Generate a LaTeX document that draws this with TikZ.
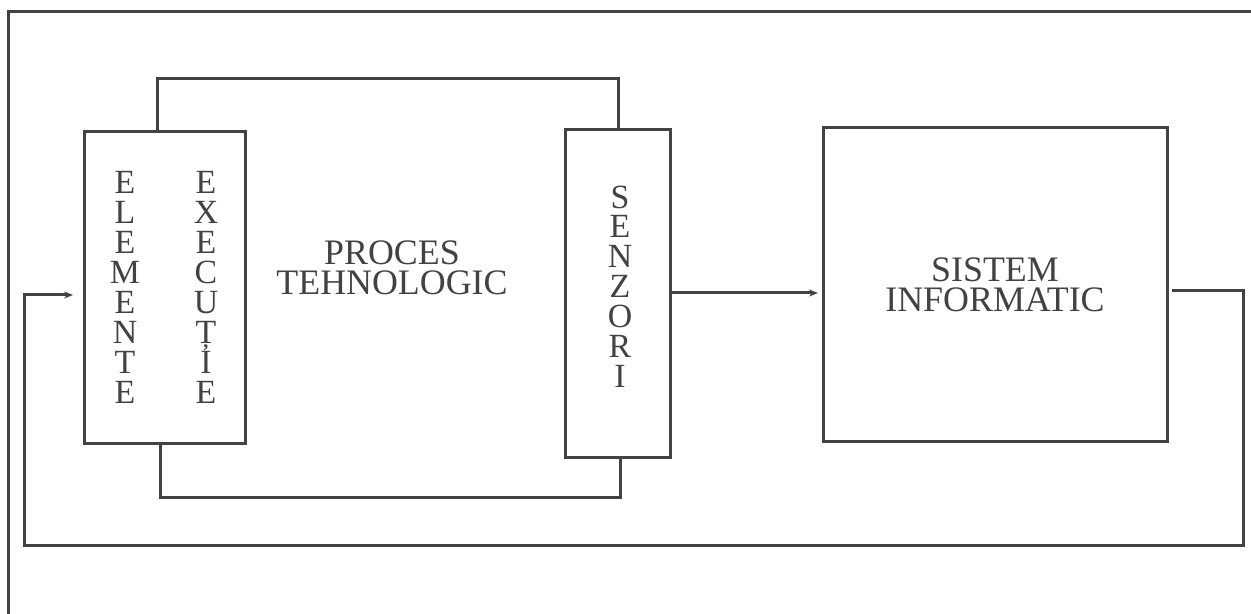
\documentclass[tikz,border=0pt]{standalone}
\usepackage{fontspec}
\setmainfont{Liberation Serif}
\usetikzlibrary{arrows.meta,calc}
\definecolor{ink}{RGB}{66,66,66}
\begin{document}
\begin{tikzpicture}[x=1bp,y=-1bp,
  line/.style={draw=ink,line width=3bp},
  blk/.style={line,rectangle,inner sep=0pt,outer sep=0pt},
  lbl/.style={text=ink,align=center,inner sep=0pt,outer sep=0pt,
    font={\fontsize{36}{30}\selectfont\lineskiplimit=-50pt}},
  vlbl/.style={lbl,font={\fontsize{34}{30}\selectfont\lineskiplimit=-50pt}},
  arr/.style={line,-{Stealth[length=9bp,width=7bp]}}]
\useasboundingbox (0,0) rectangle (1251,614);
\fill[white] (0,0) rectangle (1251,614);
% outer frame
\draw[line] (1251,12) -- (8,12) -- (8,614);
% blocks
\node[blk,minimum width=160bp,minimum height=311bp] (EL) at (165,287.5) {};
\node[vlbl] (ELa) at ($(EL.center)+(-40,0)$) {E\\L\\E\\M\\E\\N\\T\\E};
\node[vlbl] (ELb) at ($(EL.center)+(41,0)$) {E\\X\\E\\C\\U\\Ț\\I\\E};
\node[blk,minimum width=105bp,minimum height=327bp] (SE) at (617.5,293.5) {};
\node[vlbl] (SEa) at (620,286.5) {S\\E\\N\\Z\\O\\R\\I};
\node[lbl] (PT) at (392,268) {PROCES\\TEHNOLOGIC};
\node[blk,lbl,minimum width=344bp,minimum height=313bp] (SI) at (995,284.5) {SISTEM\\INFORMATIC};
% waypoints
\coordinate (t1) at (157,79);
\coordinate (t2) at (618,0);
\coordinate (b1) at (160,497);
\coordinate (b2) at (620,0);
\coordinate (r1) at (0,293);
\coordinate (fb) at (1243,291);
\coordinate (fl) at (24,545);
\coordinate (fi) at (0,295);
% connectors
\draw[line] (EL.north -| t1) -- (t1) -| (SE.north -| t2);
\draw[line] (EL.south -| b1) -- (b1) -| (SE.south -| b2);
\draw[arr,shorten >=5bp] (SE.east |- r1) -- (SI.west |- r1);
\draw[arr,shorten <=5bp,shorten >=12bp] (SI.east |- fb) -- (fb) |- (fl) |- (EL.west |- fi);
\end{tikzpicture}
\end{document}
